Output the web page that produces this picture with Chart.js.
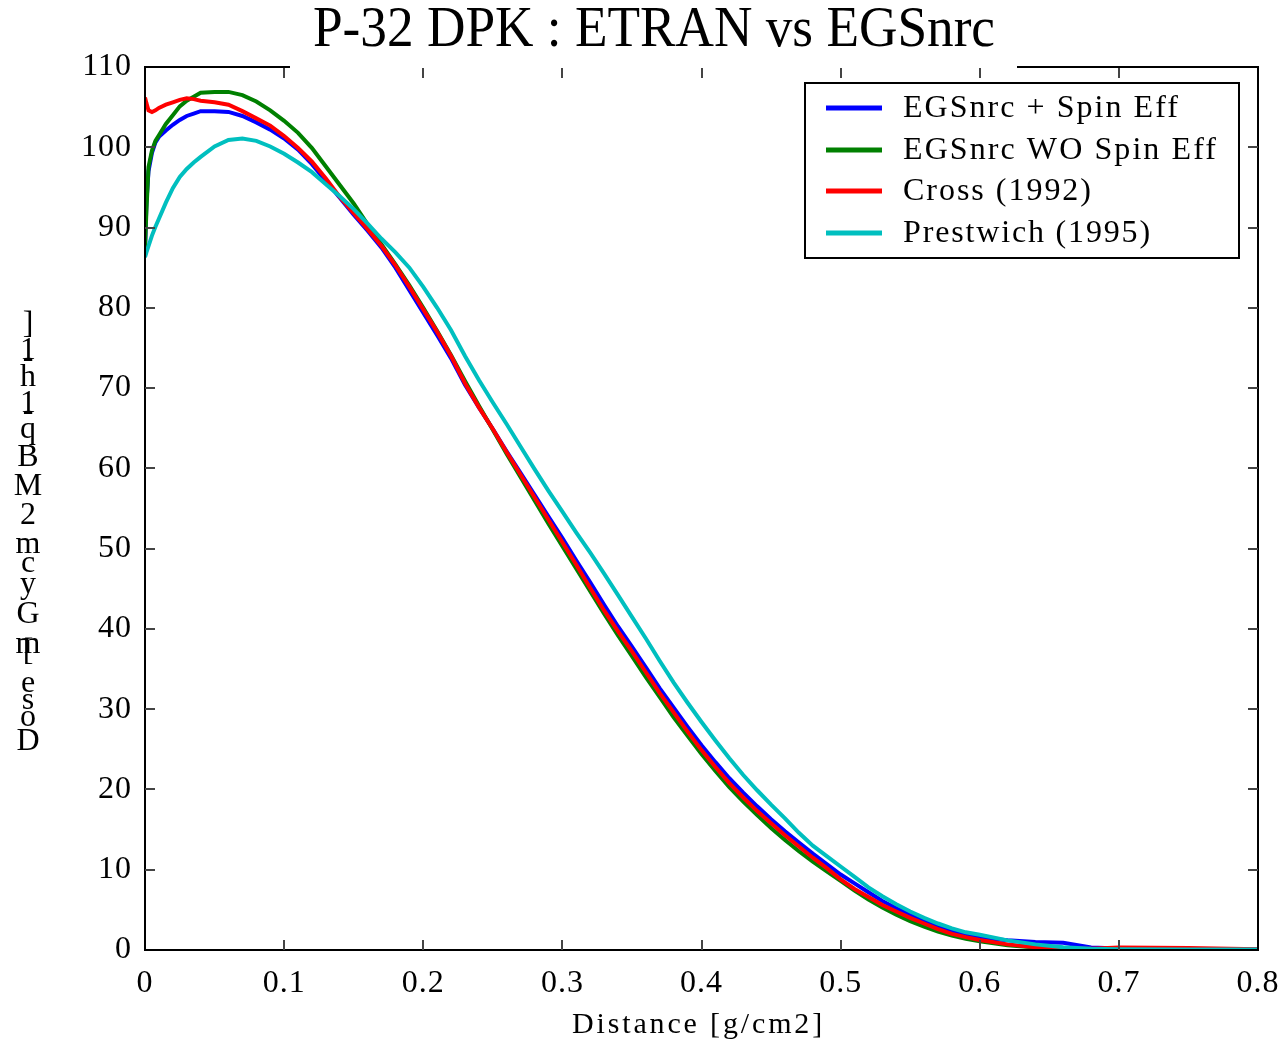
<!DOCTYPE html>
<html>
<head>
<meta charset="utf-8">
<script src="https://cdn.jsdelivr.net/npm/chart.js@4.4.1/dist/chart.umd.min.js"></script>
<style>
  html, body { margin: 0; padding: 0; background: #fff; }
</style>
</head>
<body>
<canvas id="chart" width="1284" height="1042"></canvas>
<script>
// P-32 DPK : ETRAN vs EGSnrc

const distance = [
  0, 0.001, 0.0025, 0.005, 0.0075, 0.01, 0.015, 0.02, 0.025, 0.03, 0.035, 0.04, 0.05, 0.06, 0.07, 0.08, 0.09,
  0.10, 0.11, 0.12, 0.13, 0.14, 0.15, 0.16, 0.17, 0.18, 0.19,
  0.20, 0.21, 0.22, 0.23, 0.24, 0.25, 0.26, 0.27, 0.28, 0.29,
  0.30, 0.31, 0.32, 0.33, 0.34, 0.35, 0.36, 0.37, 0.38, 0.39,
  0.40, 0.41, 0.42, 0.43, 0.44, 0.45, 0.46, 0.47, 0.48, 0.49,
  0.50, 0.51, 0.52, 0.53, 0.54, 0.55, 0.56, 0.57, 0.58, 0.59,
  0.60, 0.62, 0.64, 0.66, 0.68, 0.70, 0.75, 0.80,
];

// EGSnrc + Spin Eff
const doseSpin = [
  87.0, 93.0, 97.0, 99.3, 100.6, 101.3, 102.1, 102.8, 103.4, 103.9, 104.2, 104.5, 104.5, 104.4, 103.9, 103.1, 102.2,
  101.1, 99.7, 97.9, 95.8, 93.7, 91.6, 89.6, 87.5, 85.0, 82.2,
  79.4, 76.6, 73.7, 70.4, 67.6, 64.9, 62.1, 59.4, 56.7, 54.0,
  51.3, 48.5, 45.8, 43.0, 40.3, 37.8, 35.2, 32.6, 30.2, 27.8,
  25.5, 23.4, 21.4, 19.6, 17.9, 16.3, 14.8, 13.4, 12.0, 10.7,
  9.4, 8.3, 7.2, 6.1, 5.2, 4.4, 3.6, 2.9, 2.3, 1.8,
  1.5, 1.2, 1.0, 0.9, 0.3, 0.2, 0.1, 0.05,
];

// EGSnrc WO Spin Eff
const doseNoSpin = [
  87.5, 92.0, 97.5, 99.6, 100.8, 101.5, 102.9, 104.0, 105.1, 105.8, 106.3, 106.8, 106.9, 106.9, 106.5, 105.7, 104.6,
  103.3, 101.8, 99.9, 97.6, 95.3, 93.0, 90.4, 87.9, 85.4, 82.8,
  80.0, 77.1, 74.1, 70.9, 67.8, 64.8, 61.8, 58.9, 56.0, 53.1,
  50.3, 47.5, 44.7, 41.9, 39.2, 36.6, 34.0, 31.5, 29.0, 26.7,
  24.4, 22.3, 20.3, 18.5, 16.8, 15.2, 13.7, 12.3, 11.0, 9.8,
  8.6, 7.4, 6.3, 5.3, 4.4, 3.6, 2.9, 2.3, 1.8, 1.4,
  1.1, 0.6, 0.3, 0.15, 0.05, 0.02, 0, 0,
];

// Cross (1992)
const doseCross = [
  106.2, 105.5, 104.6, 104.4, 104.6, 104.9, 105.3, 105.6, 105.9, 106.1, 106.0, 105.8, 105.6, 105.3, 104.5, 103.6, 102.7,
  101.4, 99.9, 98.2, 96.1, 93.8, 91.8, 89.8, 87.7, 85.3, 82.6,
  79.8, 77.0, 74.0, 70.6, 67.6, 64.9, 62.0, 59.2, 56.4, 53.6,
  50.8, 48.0, 45.1, 42.3, 39.7, 37.2, 34.6, 32.0, 29.6, 27.2,
  24.9, 22.8, 20.8, 19.0, 17.3, 15.8, 14.3, 12.9, 11.5, 10.2,
  8.8, 7.6, 6.6, 5.6, 4.8, 4.0, 3.3, 2.6, 2.0, 1.6,
  1.25, 0.7, 0.35, 0.2, 0.15, 0.3, 0.25, 0.1,
];

// Prestwich (1995)
const dosePrestwich = [
  86.3, 86.9, 87.7, 89.0, 90.1, 91.1, 93.1, 94.9, 96.3, 97.3, 98.1, 98.8, 100.1, 100.9, 101.1, 100.8, 100.1,
  99.2, 98.1, 96.9, 95.4, 93.9, 92.3, 90.5, 88.6, 86.9, 85.0,
  82.6, 80.0, 77.2, 74.0, 71.0, 68.2, 65.5, 62.7, 59.9, 57.2,
  54.6, 52.0, 49.5, 46.9, 44.2, 41.5, 38.8, 36.0, 33.3, 30.8,
  28.4, 26.1, 23.9, 21.8, 19.9, 18.1, 16.4, 14.6, 13.0, 11.7,
  10.4, 9.1, 7.8, 6.7, 5.7, 4.8, 4.0, 3.3, 2.7, 2.2,
  1.9, 1.2, 0.7, 0.35, 0.15, 0.1, 0.05, 0.05,
];

const seriesNames = ["EGSnrc + Spin Eff", "EGSnrc WO Spin Eff", "Cross (1992)", "Prestwich (1995)"];
const seriesColors = ["#0000ff", "#008000", "#ff0000", "#00bfbf"];
const seriesDose = [doseSpin, doseNoSpin, doseCross, dosePrestwich];

const xTicks = [0, 0.1, 0.2, 0.3, 0.4, 0.5, 0.6, 0.7, 0.8];
const yTicks = [0, 10, 20, 30, 40, 50, 60, 70, 80, 90, 100, 110];

const titleText = "P-32 DPK : ETRAN vs EGSnrc";
const xTitle = "Distance [g/cm2]";
// y label came out as a stack of single characters in the original
const yTitleChars = [
  ["D", 742], ["o", 718], ["s", 701], ["e", 684],
  ["[", 652], ["m", 645], ["G", 615], ["y", 585], ["c", 564], ["m", 545],
  ["2", 516], ["M", 487], ["B", 458], ["q", 430], ["1", 404], ["-", 412],
  ["h", 378], ["1", 351], ["-", 359], ["]", 325],
];

const serif = "'Liberation Serif', 'Times New Roman', serif";

function fitText(ctx, text, x, y, width) {
  // stretch letter spacing so the text spans the same width as in the picture
  ctx.letterSpacing = "0px";
  const w = ctx.measureText(text).width;
  ctx.letterSpacing = ((width - w) / text.length).toFixed(2) + "px";
  ctx.fillText(text, x, y);
  ctx.letterSpacing = "0px";
}

const decor = {
  id: "decor",
  beforeDraw(chart) {
    const ctx = chart.ctx;
    ctx.save();
    ctx.fillStyle = "#fff";
    ctx.fillRect(0, 0, chart.width, chart.height);
    ctx.restore();
    ctx.letterSpacing = "1px";
  },
  afterDatasetsDraw(chart) {
    const ctx = chart.ctx;
    const { left, right, top, bottom } = chart.chartArea;
    const xs = chart.scales.x;
    const ys = chart.scales.y;

    ctx.save();
    ctx.letterSpacing = "0px";

    // frame
    ctx.strokeStyle = "#000";
    ctx.lineWidth = 2;
    ctx.strokeRect(left, top, right - left, bottom - top);

    // title sits over the top frame line
    ctx.fillStyle = "#fff";
    ctx.fillRect(290, 54, 727, 15);

    // inner tick marks
    ctx.strokeStyle = "#444";
    ctx.lineWidth = 2;
    ctx.beginPath();
    yTicks.slice(1, -1).forEach((v) => {
      const py = Math.round(ys.getPixelForValue(v));
      ctx.moveTo(left, py);
      ctx.lineTo(left + 10, py);
      ctx.moveTo(right - 10, py);
      ctx.lineTo(right, py);
    });
    xTicks.slice(1, -1).forEach((v) => {
      const px = Math.round(xs.getPixelForValue(v));
      ctx.moveTo(px, bottom);
      ctx.lineTo(px, bottom - 10);
      ctx.moveTo(px, top + 1);
      ctx.lineTo(px, top + 11);
    });
    ctx.stroke();

    // title
    ctx.fillStyle = "#000";
    ctx.font = `56px ${serif}`;
    ctx.textAlign = "left";
    ctx.textBaseline = "alphabetic";
    const tw = ctx.measureText(titleText).width;
    ctx.save();
    ctx.translate(313, 46);
    ctx.scale(682 / tw, 1);
    ctx.fillText(titleText, 0, 0);
    ctx.restore();

    // legend
    const box = { x: 805, y: 83, w: 434, h: 175 };
    ctx.fillStyle = "#fff";
    ctx.fillRect(box.x, box.y, box.w, box.h);
    ctx.strokeStyle = "#000";
    ctx.lineWidth = 2;
    ctx.strokeRect(box.x, box.y, box.w, box.h);
    const rowY = [108, 150, 191, 233];
    const rowW = [277, 315, 190, 249];
    ctx.font = `32px ${serif}`;
    ctx.textBaseline = "middle";
    seriesNames.forEach((name, i) => {
      ctx.strokeStyle = seriesColors[i];
      ctx.lineWidth = 5;
      ctx.beginPath();
      ctx.moveTo(826, rowY[i]);
      ctx.lineTo(882, rowY[i]);
      ctx.stroke();
      ctx.fillStyle = "#000";
      fitText(ctx, name, 903, rowY[i] + 1, rowW[i]);
    });

    // x axis title
    ctx.font = `30px ${serif}`;
    ctx.textBaseline = "middle";
    fitText(ctx, xTitle, 572, 1025, 253);

    // y axis title (stacked characters)
    ctx.font = `32px ${serif}`;
    ctx.textAlign = "center";
    yTitleChars.forEach(([ch, py]) => {
      ctx.fillText(ch, 28, py);
    });

    ctx.restore();
  },
};

new Chart(document.getElementById("chart"), {
  type: "line",
  data: {
    datasets: seriesNames.map((name, i) => ({
      label: name,
      data: distance.map((d, j) => ({ x: d, y: seriesDose[i][j] })),
      borderColor: seriesColors[i],
      backgroundColor: seriesColors[i],
      borderWidth: 4,
      pointRadius: 0,
      tension: 0,
      fill: false,
      order: 3 - i, // Prestwich on top
    })),
  },
  options: {
    responsive: false,
    animation: false,
    devicePixelRatio: 1,
    layout: { padding: { top: 67, right: 26, left: 0, bottom: 0 } },
    plugins: {
      legend: { display: false },
      title: { display: false },
      tooltip: { enabled: false },
    },
    scales: {
      x: {
        type: "linear",
        min: 0,
        max: 0.8,
        afterFit: (s) => {
          s.height = 92;
          s.paddingLeft = 0;
          s.paddingRight = 0;
        },
        afterBuildTicks: (s) => { s.ticks = xTicks.map((v) => ({ value: v })); },
        grid: { display: false, drawTicks: false },
        border: { display: false },
        ticks: {
          padding: 14,
          color: "#000",
          font: { family: serif, size: 32 },
          maxRotation: 0,
          callback: (v) => (v === 0 ? "0" : v.toFixed(1)),
        },
      },
      y: {
        type: "linear",
        min: 0,
        max: 110,
        afterFit: (s) => {
          s.width = 145;
          s.paddingTop = 0;
          s.paddingBottom = 0;
        },
        afterBuildTicks: (s) => { s.ticks = yTicks.map((v) => ({ value: v })); },
        grid: { display: false, drawTicks: false },
        border: { display: false },
        ticks: {
          padding: 13,
          color: "#000",
          font: { family: serif, size: 32 },
          callback: (v) => String(v),
        },
      },
    },
  },
  plugins: [decor],
});
</script>
</body>
</html>
